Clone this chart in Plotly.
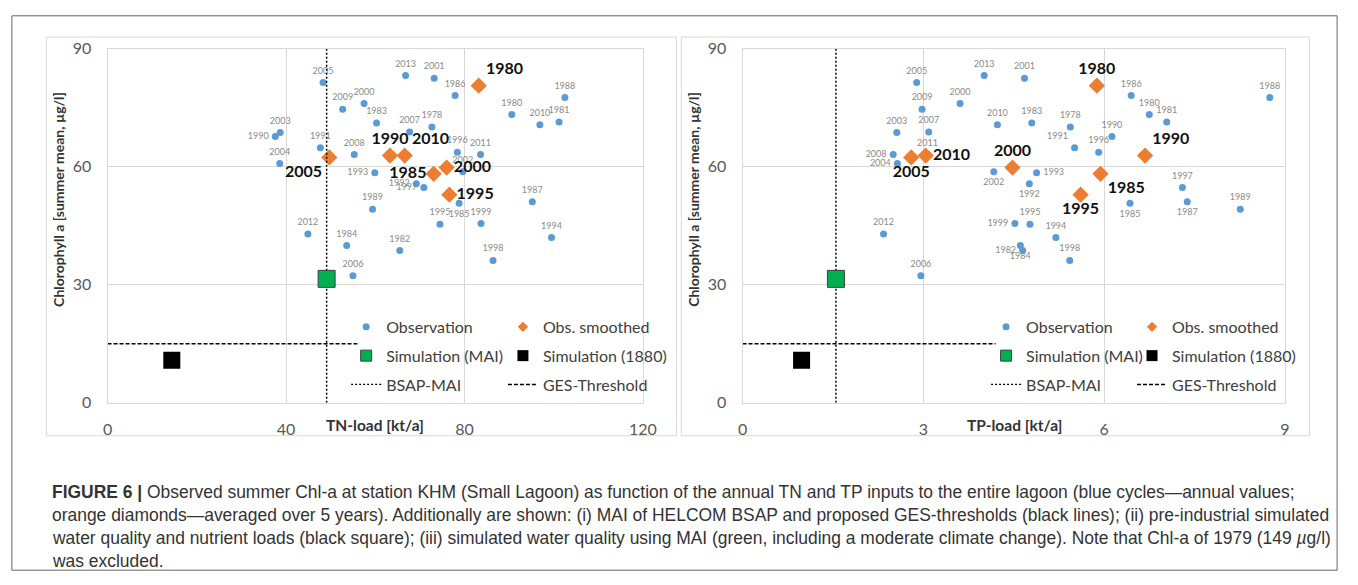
import plotly.graph_objects as go

# ---------------- data ----------------
years = [1978, 1980, 1981, 1982, 1983, 1984, 1985, 1986, 1987, 1988, 1989,
         1990, 1991, 1992, 1993, 1994, 1995, 1996, 1997, 1998, 1999, 2000,
         2001, 2002, 2003, 2004, 2005, 2006, 2007, 2008, 2009, 2010, 2011,
         2012, 2013]
tn_load = [72.7, 90.6, 101.2, 65.5, 60.3, 53.6, 78.8, 77.9, 95.2, 102.5, 59.4,
           37.6, 47.7, 69.2, 59.9, 99.5, 74.5, 78.4, 70.9, 86.4, 83.7, 57.5,
           73.2, 79.6, 38.7, 38.6, 48.3, 55.0, 67.7, 55.3, 52.7, 96.9, 83.6,
           44.9, 66.8]
tp_load = [5.44, 6.75, 7.04, 4.65, 4.80, 4.61, 6.43, 6.45, 7.38, 8.75, 8.26,
           6.13, 5.51, 4.76, 4.88, 5.20, 4.77, 5.91, 7.30, 5.43, 4.52, 3.61,
           4.68, 4.17, 2.56, 2.57, 2.89, 2.96, 3.09, 2.50, 2.98, 4.23, 3.07,
           2.34, 4.01]
chl_obs = [70.1, 73.3, 71.4, 38.7, 71.1, 40.0, 50.7, 78.1, 51.1, 77.6, 49.2,
           67.7, 64.8, 55.7, 58.5, 42.0, 45.4, 63.7, 54.7, 36.2, 45.6, 76.1,
           82.5, 58.7, 68.7, 60.8, 81.4, 32.3, 68.8, 63.1, 74.6, 70.7, 63.1,
           42.9, 83.2]

smooth_years = [1980, 1985, 1990, 1995, 2000, 2005, 2010]
tn_smooth = [83.2, 73.1, 63.3, 76.6, 76.0, 49.7, 66.6]
tp_smooth = [5.88, 5.94, 6.68, 5.61, 4.48, 2.80, 3.04]
chl_smooth = [80.6, 58.2, 62.85, 52.9, 59.8, 62.35, 62.85]

sim_mai_tn, sim_mai_tp, sim_mai_chl = 49.1, 1.55, 31.5
sim_1880_tn, sim_1880_tp, sim_1880_chl = 14.4, 0.98, 10.8
bsap_chl_span = [0, 90]
ges_threshold = 15
ges_tn_span = [0, 56]
ges_tp_span = [0, 4.2]

tn_ticks = [0, 40, 80, 120]
tp_ticks = [0, 3, 6, 9]
chl_ticks = [0, 30, 60, 90]

caption_lines = [
    "<b>FIGURE 6 |</b> Observed summer Chl-a at station KHM (Small Lagoon) as function of the annual TN and TP inputs to the entire lagoon (blue cycles\u2014annual values;",
    "orange diamonds\u2014averaged over 5 years). Additionally are shown: (i) MAI of HELCOM BSAP and proposed GES-thresholds (black lines); (ii) pre-industrial simulated",
    "water quality and nutrient loads (black square); (iii) simulated water quality using MAI (green, including a moderate climate change). Note that Chl-a of 1979 (149 <i>\u00b5</i>g/l)",
    "was excluded.",
]

# ---------------- styles ----------------
W, H = 1358, 585
BLUE = "#5B9BD5"
ORANGE = "#ED7D31"
GREEN = "#00B050"
FONT = "Lato"

left_obs_pos = {1990: "middle left", 1993: "middle left", 1992: "middle left",
                1997: "middle left", 1985: "bottom center"}
right_obs_pos = {1991: "top left", 2008: "middle left", 2004: "middle left",
                 2002: "bottom center", 1993: "middle right", 1992: "bottom center",
                 1985: "bottom center", 1987: "bottom center", 1999: "middle left",
                 1982: "middle left", 1984: "bottom center"}
left_sm_pos = {1980: "top right", 1985: "middle left", 1990: "top center",
               1995: "middle right", 2000: "middle right", 2005: "bottom left",
               2010: "top right"}
right_sm_pos = {1980: "top center", 1985: "bottom right", 1990: "top right",
                1995: "bottom center", 2000: "top center", 2005: "bottom center",
                2010: "middle right"}


def px(x):
    return x / W


def py(y):
    return 1 - y / H


fig = go.Figure()


def add_panel(xs, xs_sm, x_mai, x_1880, ges_span, xa, ya, obs_pos, sm_pos, lg1, lg2):
    fig.add_trace(go.Scatter(x=xs, y=chl_obs, mode="markers", xaxis=xa, yaxis=ya,
                             marker=dict(color=BLUE, size=7), showlegend=False,
                             hoverinfo="skip"))
    # year labels (invisible marker only sets the label offset)
    fig.add_trace(go.Scatter(x=xs, y=chl_obs, mode="markers+text", xaxis=xa, yaxis=ya,
                             marker=dict(size=9, opacity=0),
                             text=[str(y) for y in years],
                             textposition=[obs_pos.get(y, "top center") for y in years],
                             textfont=dict(family=FONT, size=9, color="#8a8a8a"),
                             showlegend=False, hoverinfo="skip"))
    fig.add_trace(go.Scatter(x=xs_sm, y=chl_smooth, mode="markers", xaxis=xa, yaxis=ya,
                             marker=dict(color=ORANGE, size=12.5, symbol="diamond"),
                             showlegend=False, hoverinfo="skip"))
    fig.add_trace(go.Scatter(x=xs_sm, y=chl_smooth, mode="markers+text", xaxis=xa, yaxis=ya,
                             marker=dict(size=10, opacity=0),
                             text=[str(y) for y in smooth_years],
                             textposition=[sm_pos[y] for y in smooth_years],
                             textfont=dict(family=FONT, size=16, color="#111111"),
                             texttemplate="<b>%{text}</b>",
                             showlegend=False, hoverinfo="skip"))
    fig.add_trace(go.Scatter(x=[x_mai, x_mai], y=bsap_chl_span, mode="lines", xaxis=xa, yaxis=ya,
                             line=dict(color="black", width=1.5, dash="2px,2px"),
                             showlegend=False, hoverinfo="skip"))
    fig.add_trace(go.Scatter(x=ges_span, y=[ges_threshold, ges_threshold], mode="lines",
                             xaxis=xa, yaxis=ya,
                             line=dict(color="black", width=1.6, dash="4px,2px"),
                             showlegend=False, hoverinfo="skip"))
    fig.add_trace(go.Scatter(x=[x_mai], y=[sim_mai_chl], mode="markers", xaxis=xa, yaxis=ya,
                             marker=dict(color=GREEN, size=17, symbol="square",
                                         line=dict(color="#404040", width=1)),
                             showlegend=False, hoverinfo="skip"))
    fig.add_trace(go.Scatter(x=[x_1880], y=[sim_1880_chl], mode="markers", xaxis=xa, yaxis=ya,
                             marker=dict(color="black", size=17, symbol="square"),
                             showlegend=False, hoverinfo="skip"))
    # legend entries
    entries = [
        (lg1, "Observation", dict(mode="markers", marker=dict(color=BLUE, size=7))),
        (lg1, "Simulation (MAI)", dict(mode="markers", marker=dict(color=GREEN, size=11, symbol="square",
                                                                   line=dict(color="#404040", width=1)))),
        (lg1, "BSAP-MAI", dict(mode="lines", line=dict(color="black", width=1.3, dash="2px,2px"))),
        (lg2, "Obs. smoothed", dict(mode="markers", marker=dict(color=ORANGE, size=8, symbol="diamond"))),
        (lg2, "Simulation (1880)", dict(mode="markers", marker=dict(color="black", size=11, symbol="square"))),
        (lg2, "GES-Threshold", dict(mode="lines", line=dict(color="black", width=1.6, dash="4px,2px"))),
    ]
    for lg, name, kw in entries:
        fig.add_trace(go.Scatter(x=[None], y=[None], name=name, legend=lg, xaxis=xa, yaxis=ya,
                                 legendgroup=lg + name, showlegend=True, **kw))


add_panel(tn_load, tn_smooth, sim_mai_tn, sim_1880_tn, ges_tn_span, "x", "y",
          left_obs_pos, left_sm_pos, "legend", "legend2")
add_panel(tp_load, tp_smooth, sim_mai_tp, sim_1880_tp, ges_tp_span, "x2", "y2",
          right_obs_pos, right_sm_pos, "legend3", "legend4")

axis_common = dict(showgrid=True, gridcolor="#d9d9d9", gridwidth=1, zeroline=False,
                   showline=True, linecolor="#d9d9d9", linewidth=1, mirror=True,
                   ticks="", tickfont=dict(family=FONT, size=16, color="#595959"))

fig.update_layout(
    width=W, height=H, margin=dict(l=0, r=0, t=0, b=0),
    paper_bgcolor="white", plot_bgcolor="white",
    xaxis=dict(domain=[px(104), px(647)], range=[0, 120], tickvals=tn_ticks,
               ticklabelstandoff=12, anchor="y", **axis_common),
    yaxis=dict(domain=[py(406), py(40)], range=[0, 90], tickvals=chl_ticks,
               ticklabelstandoff=12, anchor="x", **axis_common),
    xaxis2=dict(domain=[px(748), px(1298)], range=[0, 9], tickvals=tp_ticks,
                ticklabelstandoff=12, anchor="y2", **axis_common),
    yaxis2=dict(domain=[py(406), py(40)], range=[0, 90], tickvals=chl_ticks,
                ticklabelstandoff=12, anchor="x2", **axis_common),
)

leg_common = dict(bgcolor="rgba(0,0,0,0)", font=dict(family=FONT, size=16, color="#404040"),
                  tracegroupgap=5, traceorder="grouped", xanchor="left", yanchor="top",
                  itemwidth=30, borderwidth=0)
fig.update_layout(
    legend=dict(x=px(346), y=py(310), **leg_common),
    legend2=dict(x=px(505), y=py(310), **leg_common),
    legend3=dict(x=px(995), y=py(310), **leg_common),
    legend4=dict(x=px(1143), y=py(310), **leg_common),
)

annotations = [
    dict(text="<b>Chlorophyll a [summer mean, \u00b5g/l]</b>", x=px(54), y=py(196), textangle=-90,
         font=dict(family=FONT, size=14, color="#333333")),
    dict(text="<b>Chlorophyll a [summer mean, \u00b5g/l]</b>", x=px(698), y=py(196), textangle=-90,
         font=dict(family=FONT, size=14, color="#333333")),
    dict(text="<b>TN-load [kt/a]</b>", x=px(375), y=py(429),
         font=dict(family=FONT, size=15.5, color="#333333")),
    dict(text="<b>TP-load [kt/a]</b>", x=px(1024), y=py(429),
         font=dict(family=FONT, size=15.5, color="#333333")),
]
for a in annotations:
    a.update(xref="paper", yref="paper", showarrow=False, xanchor="center", yanchor="middle")

caption_y = [498, 522, 546, 570]
for i, line in enumerate(caption_lines):
    annotations.append(dict(text=line, x=px(46), y=py(caption_y[i]), xref="paper",
                            yref="paper", showarrow=False, xanchor="left", yanchor="middle",
                            font=dict(family="Liberation Sans", size=17.45, color="#333333")))
fig.update_layout(annotations=annotations)

shapes = [
    dict(type="rect", x0=px(7), x1=px(1351), y0=py(579), y1=py(6), line=dict(color="#666666", width=1)),
    dict(type="rect", x0=px(42), x1=px(681), y0=py(440), y1=py(28), line=dict(color="#d9d9d9", width=1)),
    dict(type="rect", x0=px(686), x1=px(1323), y0=py(440), y1=py(28), line=dict(color="#d9d9d9", width=1)),
]
for s in shapes:
    s.update(xref="paper", yref="paper", layer="below")
fig.update_layout(shapes=shapes)

fig.write_html("out.html")
